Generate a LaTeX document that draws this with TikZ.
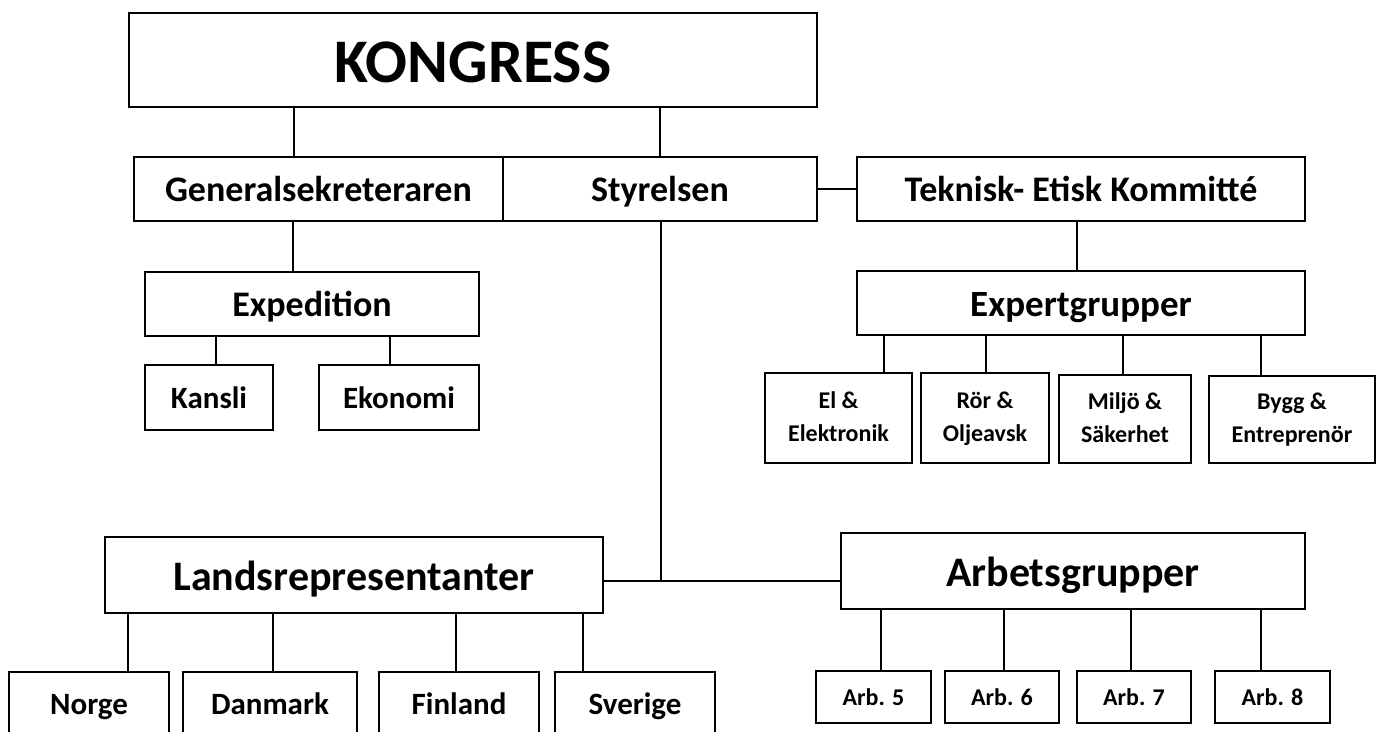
\documentclass[tikz,border=0pt]{standalone}
\usepackage{fontspec}
\setmainfont{Carlito}
\usetikzlibrary{calc}
\newcommand{\fs}[1]{\bfseries\fontsize{#1}{#1}\selectfont}
\tikzset{
  bx/.style={draw, line width=2pt, inner sep=0pt, align=center},
  one/.style={bx, font=\fs{#1}, text height={#1*0.72pt}, text depth=0pt},
  two/.style={bx, font=\bfseries\fontsize{24}{33}\selectfont},
  ln/.style={line width=2pt},
}
\begin{document}
\begin{tikzpicture}[x=1pt,y=-1pt]
\useasboundingbox (0,0) rectangle (1376,731);
\clip (0,0) rectangle (1376,731);
% top
\node[one=62, minimum width=688, minimum height=94] (kong) at (473,60) {KONGRESS};
\node[one=36, minimum width=369, minimum height=64] (gen) at (318.5,189) {Generalsekreteraren};
\node[one=36, minimum width=314, minimum height=64] (sty) at (660,189) {Styrelsen};
\node[one=36, minimum width=448, minimum height=64] (tek) at (1081,189) {Teknisk- Etisk Kommitté};
\node[one=37, minimum width=448, minimum height=64] (exp) at (1081,303) {Expertgrupper};
% expert subs
\node[two, minimum width=147, minimum height=90] (el) at (838.5,418) {\strut El \&\\\strut Elektronik};
\node[two, minimum width=128, minimum height=90] (ror) at (985,418) {\strut Rör \&\\\strut Oljeavsk};
\node[two, minimum width=132, minimum height=88] (mil) at (1125,419) {\strut Miljö \&\\\strut Säkerhet};
\node[two, minimum width=166, minimum height=87] (byg) at (1292,419.5) {\strut Bygg \&\\\strut Entreprenör};
% expedition
\node[one=36, minimum width=334, minimum height=64] (expd) at (312,304) {Expedition};
\node[one=31, minimum width=128, minimum height=65] (kan) at (209,397.5) {Kansli};
\node[one=31, minimum width=160, minimum height=65] (eko) at (399,397.5) {Ekonomi};
% lands & arb
\node[one=42, minimum width=498, minimum height=76] (lands) at (354,575) {Landsrepresentanter};
\node[one=42, minimum width=464, minimum height=76] (arb) at (1073,571) {Arbetsgrupper};
\node[one=31, minimum width=160, minimum height=62] (nor) at (89,703) {Norge};
\node[one=31, minimum width=174, minimum height=62] (dan) at (270,703) {Danmark};
\node[one=31, minimum width=160, minimum height=62] (fin) at (459,703) {Finland};
\node[one=31, minimum width=160, minimum height=62] (sve) at (635,703) {Sverige};
\node[one=24, minimum width=115, minimum height=52] (a5) at (873.5,697) {Arb. 5};
\node[one=24, minimum width=114, minimum height=52] (a6) at (1002,697) {Arb. 6};
\node[one=24, minimum width=114, minimum height=52] (a7) at (1134,697) {Arb. 7};
\node[one=24, minimum width=115, minimum height=52] (a8) at (1272.5,697) {Arb. 8};
% connectors
\draw[ln] ([xshift=-24.5pt]gen.north) -- ([xshift=-24.5pt]gen.north |- kong.south);
\draw[ln] (sty.north) -- (sty.north |- kong.south);
\draw[ln] (sty.east) -- (tek.west);
\draw[ln] ([xshift=-4pt]tek.south) -- ([xshift=-4pt]exp.north);
\draw[ln] ([xshift=45.5pt]el.north) -- ([xshift=45.5pt]el.north |- exp.south);
\draw[ln] ([xshift=1pt]ror.north) -- ([xshift=1pt]ror.north |- exp.south);
\draw[ln] ([xshift=-2pt]mil.north) -- ([xshift=-2pt]mil.north |- exp.south);
\draw[ln] ([xshift=-31pt]byg.north) -- ([xshift=-31pt]byg.north |- exp.south);
\draw[ln] ([xshift=-25.5pt]gen.south) -- ([xshift=-25.5pt]gen.south |- expd.north);
\draw[ln] ([xshift=7pt]kan.north) -- ([xshift=7pt]kan.north |- expd.south);
\draw[ln] ([xshift=-9pt]eko.north) -- ([xshift=-9pt]eko.north |- expd.south);
\coordinate (j) at (661,581);
\draw[ln] ([xshift=1pt]sty.south) -- (j);
\draw[ln] (lands.east |- j) -- (arb.west |- j);
\draw[ln] ([xshift=39pt]nor.north) -- ([xshift=39pt]nor.north |- lands.south);
\draw[ln] ([xshift=3pt]dan.north) -- ([xshift=3pt]dan.north |- lands.south);
\draw[ln] ([xshift=-3pt]fin.north) -- ([xshift=-3pt]fin.north |- lands.south);
\draw[ln] ([xshift=-52pt]sve.north) -- ([xshift=-52pt]sve.north |- lands.south);
\draw[ln] ([xshift=7.5pt]a5.north) -- ([xshift=7.5pt]a5.north |- arb.south);
\draw[ln] ([xshift=2pt]a6.north) -- ([xshift=2pt]a6.north |- arb.south);
\draw[ln] ([xshift=-3pt]a7.north) -- ([xshift=-3pt]a7.north |- arb.south);
\draw[ln] ([xshift=-11.5pt]a8.north) -- ([xshift=-11.5pt]a8.north |- arb.south);
\end{tikzpicture}
\end{document}
